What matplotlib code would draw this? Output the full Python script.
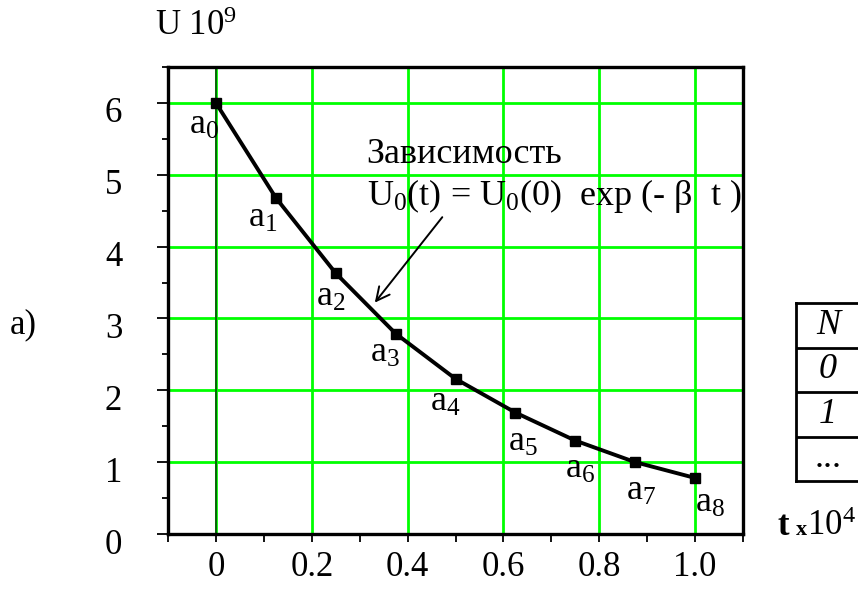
import numpy as np
import matplotlib.pyplot as plt
from matplotlib import transforms

plt.rcParams['font.family'] = ['Liberation Serif', 'DejaVu Serif']
plt.rcParams['mathtext.fontset'] = 'custom'
plt.rcParams['mathtext.rm'] = 'Liberation Serif'
plt.rcParams['mathtext.it'] = 'Liberation Serif:italic'
plt.rcParams['mathtext.bf'] = 'Liberation Serif:bold'

# data
t_vals = [0.0, 0.125, 0.25, 0.375, 0.5, 0.625, 0.75, 0.875, 1.0]
u_vals = [6.0, 4.68, 3.63, 2.79, 2.16, 1.69, 1.30, 1.0, 0.78]
point_names = ['a$_%d$' % i for i in range(9)]
x_ticks = [0.0, 0.2, 0.4, 0.6, 0.8, 1.0]
x_tick_labels = ['0', '0.2', '0.4', '0.6', '0.8', '1.0']
y_ticks = [0, 1, 2, 3, 4, 5, 6]
y_tick_labels = ['0', '1', '2', '3', '4', '5', '6']
table_cells = ['N', '0', '1', '...']

# label placement (pixels from the marker: left edge, baseline below)
label_offsets = [(-27, 31), (-28, 29), (-20, 33), (-26, 28), (-25, 32),
                 (-7, 38), (-10, 37), (-9, 38), (0, 34)]

W, H = 858, 599
fig = plt.figure(figsize=(W / 100, H / 100), dpi=100)
ax = fig.add_axes([168 / W, (H - 534) / H, (743 - 168) / W, (534 - 67) / H])

green = '#00ff00'
fs = 25

ax.set_xlim(-0.1, 1.1)
ax.set_ylim(0, 6.5)
ax.set_xticks(x_ticks)
ax.set_xticklabels(x_tick_labels, fontsize=fs)
ax.set_xticks(np.arange(-0.1, 1.15, 0.2), minor=True)
ax.set_yticks(y_ticks)
ax.set_yticklabels(y_tick_labels, fontsize=fs)
ax.set_yticks(np.arange(0.5, 6.6, 1.0), minor=True)

ax.tick_params(axis='x', which='both', direction='out', length=6, width=1.3, pad=6)
ax.tick_params(axis='y', which='major', direction='out', length=8, width=1.3, pad=25)
ax.tick_params(axis='y', which='minor', direction='out', length=4, width=1.3)

for lab in ax.get_yticklabels():
    lab.set_transform(lab.get_transform() + transforms.ScaledTranslation(0, -7 / 100, fig.dpi_scale_trans))

ax.grid(True, which='major', color=green, lw=2, zorder=0)
ax.set_axisbelow(True)
ax.axvline(0, color='#0a3a0a', lw=1.1, zorder=1)

for s in ax.spines.values():
    s.set_linewidth(2.4)
    s.set_color('black')

ax.plot(t_vals, u_vals, color='black', lw=2.8, marker='s', ms=6.5, zorder=3, clip_on=False)

for x, y, name, (dx, dy) in zip(t_vals, u_vals, point_names, label_offsets):
    ax.annotate(name, (x, y), xytext=(dx, -dy), textcoords='offset pixels',
                fontsize=26, ha='left', va='baseline')

ax.text(0.314, 5.17, 'Зависимость', fontsize=26, ha='left', va='baseline')
ax.text(0.316, 4.58, 'U$_0$(t) = U$_0$(0)  exp (- β  t )', fontsize=26,
        ha='left', va='baseline')
ax.annotate('', xy=(0.328, 3.19), xytext=(0.476, 4.44),
            arrowprops=dict(arrowstyle='->', color='black', lw=1.4,
                            mutation_scale=24))

fig.text(155 / W, 1 - 35 / H, 'U 10$^9$', fontsize=fs, ha='left', va='baseline')
fig.text(10 / W, 1 - 333 / H, 'a)', fontsize=fs, ha='left', va='baseline')
fig.text(777 / W, 1 - 535 / H, 't', fontsize=fs, fontweight='bold', ha='left', va='baseline')
fig.text(796 / W, 1 - 535 / H, 'x', fontsize=16, fontweight='bold', ha='left', va='baseline')
fig.text(807 / W, 1 - 535 / H, '10$^4$', fontsize=fs, ha='left', va='baseline')

# small table at the right edge
tab = fig.add_axes([796 / W, (H - 481) / H, 100 / W, (481 - 303) / H])
tab.set_xlim(0, 1)
tab.set_ylim(0, 4)
tab.set_xticks([])
tab.set_yticks([])
for s in tab.spines.values():
    s.set_linewidth(2)
for k in range(1, 4):
    tab.axhline(k, color='black', lw=2)
for k, cell in enumerate(table_cells):
    tab.text(0.32, 3.5 - k, cell, fontsize=26, style='italic' if cell != '...' else 'normal',
             ha='center', va='center')

fig.savefig('out.png', dpi=100)
